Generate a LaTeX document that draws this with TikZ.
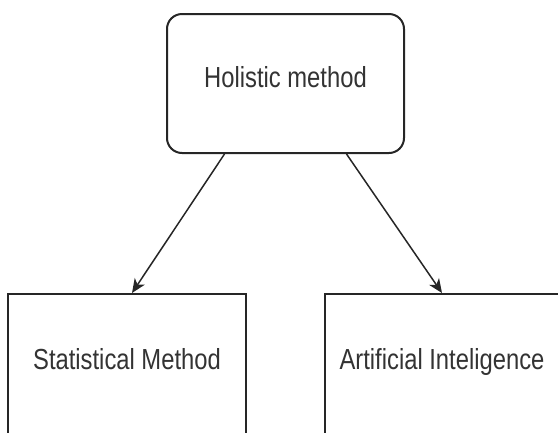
\documentclass[tikz,border=0pt]{standalone}
\usepackage{fontspec}
\setmainfont{Liberation Sans}[FakeStretch=0.82]
\usetikzlibrary{arrows.meta}

\begin{document}
\begin{tikzpicture}[x=1pt,y=-1pt,
  box/.style={draw=black!85,line width=2pt,fill=white,minimum width=238pt,minimum height=142pt,font=\fontsize{29}{34}\selectfont,text=black!80,text height=1.0em,text depth=0.14em},
  link/.style={draw=black!85,line width=1.5pt,-{Stealth[length=14pt,width=12pt,inset=4pt]}}]
\useasboundingbox (0,0) rectangle (558,432);
\clip (0,0) rectangle (558,432);

\node[box,rounded corners=15pt,minimum width=237pt,minimum height=139pt] (holistic) at (285.5,83.5) {Holistic method};
\node[box] (statistical) at (127,365) {Statistical Method};
\node[box,minimum width=234pt] (ai) at (442,365) {Artificial Inteligence};

\draw[link] ([xshift=-61pt]holistic.south) -- ([xshift=5pt]statistical.north);
\draw[link] ([xshift=61pt]holistic.south) -- (ai.north);
\end{tikzpicture}
\end{document}
